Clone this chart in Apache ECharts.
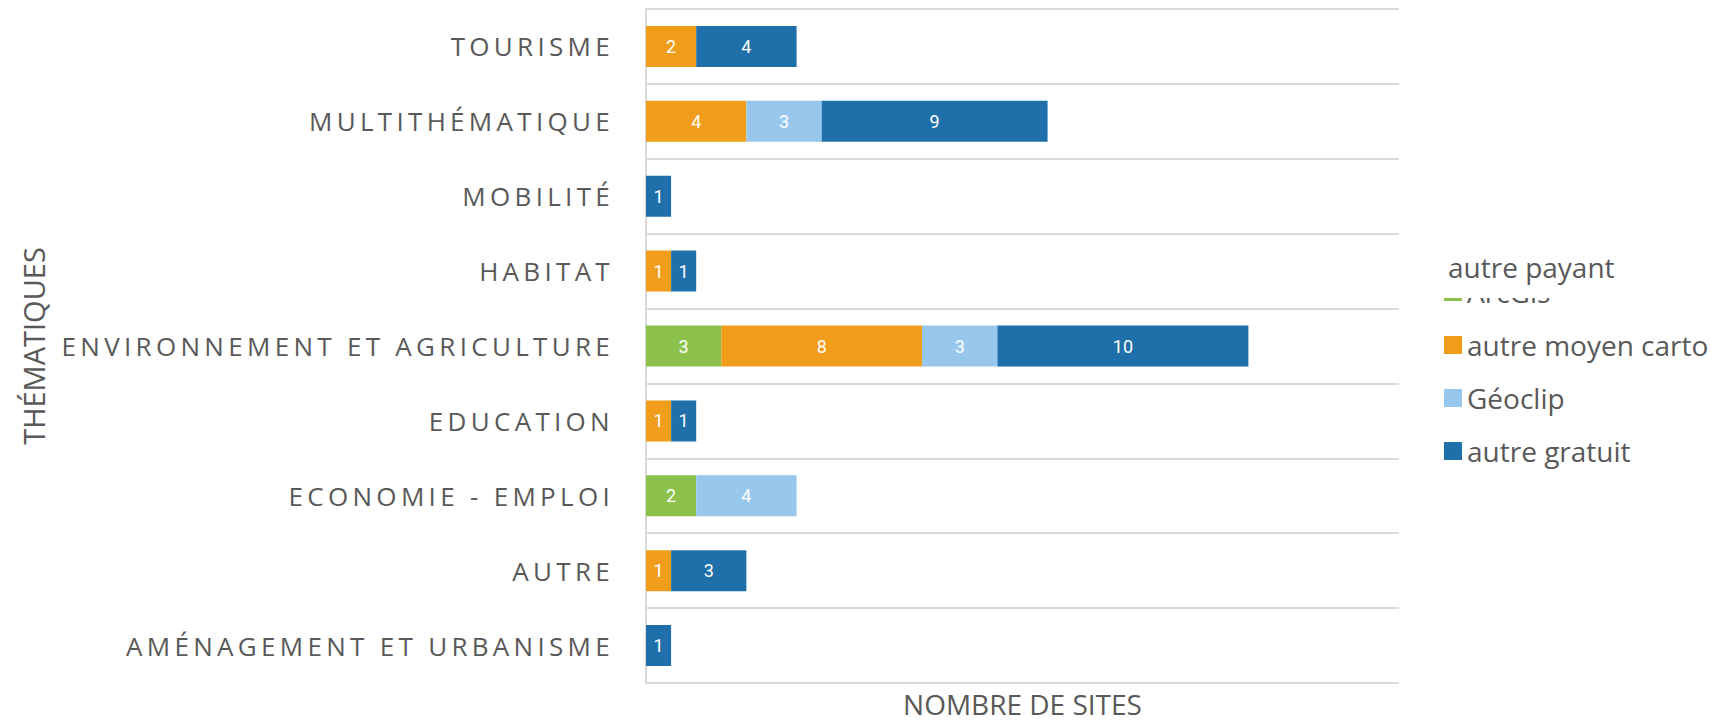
<!DOCTYPE html>
<html>
<head>
<meta charset="utf-8">
<script src="https://cdn.jsdelivr.net/npm/echarts@6/dist/echarts.min.js"></script>
<style>
  html, body { margin: 0; padding: 0; background: #fff; }
  #chart { width: 1716px; height: 724px; }
</style>
</head>
<body>
<div id="chart"></div>
<script>
// categories, bottom to top
var categories = ['AMÉNAGEMENT ET URBANISME', 'AUTRE', 'ECONOMIE - EMPLOI', 'EDUCATION',
  'ENVIRONNEMENT ET AGRICULTURE', 'HABITAT', 'MOBILITÉ', 'MULTITHÉMATIQUE', 'TOURISME'];

var autrePayant = [null, null, null, null, null, null, null, null, null];
var arcGis = [null, null, 2, null, 3, null, null, null, null];
var autreMoyenCarto = [null, 1, null, 1, 8, 1, null, 4, 2];
var geoclip = [null, null, 4, null, 3, null, null, 3, null];
var autreGratuit = [1, 3, null, 1, 10, 1, 1, 9, 4];

var textColor = '#595959';
var gridColor = '#d9d9d9';

function stackSeries(name, data, color) {
  return {
    name: name,
    type: 'bar',
    stack: 'total',
    data: data,
    barWidth: 41,
    itemStyle: { color: color },
    label: {
      show: true,
      color: '#fff',
      fontFamily: 'Roboto',
      fontSize: 18,
      formatter: function (p) { return p.value ? p.value : ''; }
    }
  };
}

var chart = echarts.init(document.getElementById('chart'), null, { renderer: 'svg' });
chart.setOption({
  animation: false,
  grid: { left: 646, right: 317, top: 9, bottom: 41, containLabel: false, outerBoundsMode: 'none' },
  legend: [{
    data: ['ArcGis', 'autre moyen carto', 'Géoclip', 'autre gratuit'],
    orient: 'vertical',
    left: 1439,
    top: 272,
    itemWidth: 18,
    itemHeight: 18,
    itemGap: 23,
    icon: 'rect',
    textStyle: { color: textColor, fontFamily: 'Open Sans', fontSize: 28, lineHeight: 30 }
  }, {
    // the "autre payant" entry sits on top of the ArcGis one, as in the original
    data: ['autre payant'],
    orient: 'vertical',
    left: 1440,
    top: 252,
    z: 10,
    icon: 'none',
    itemWidth: 3,
    itemHeight: 3,
    padding: [0, 30, 16, 0],
    backgroundColor: '#fff',
    textStyle: { color: textColor, fontFamily: 'Open Sans', fontSize: 28, lineHeight: 30 }
  }],
  xAxis: {
    type: 'value',
    min: 0,
    max: 30,
    axisLabel: { show: false },
    axisLine: { show: false },
    axisTick: { show: false },
    splitLine: { show: false },
    name: 'NOMBRE DE SITES',
    nameLocation: 'middle',
    nameGap: 7,
    nameTextStyle: { color: textColor, fontFamily: 'Open Sans', fontSize: 28, lineHeight: 28 }
  },
  yAxis: {
    type: 'category',
    data: categories,
    axisLine: { show: true, lineStyle: { color: gridColor, width: 2 } },
    axisTick: { show: false },
    splitLine: { show: true, lineStyle: { color: gridColor, width: 2 } },
    axisLabel: { color: textColor, fontFamily: 'Open Sans', fontSize: 26, margin: 32 },
    name: 'THÉMATIQUES',
    nameLocation: 'middle',
    nameGap: 598,
    nameRotate: 90,
    nameTextStyle: { color: textColor, fontFamily: 'Open Sans', fontSize: 29 }
  },
  series: [
    stackSeries('autre payant', autrePayant, '#a5a5a5'),
    stackSeries('ArcGis', arcGis, '#8cc14b'),
    stackSeries('autre moyen carto', autreMoyenCarto, '#f19d1c'),
    stackSeries('Géoclip', geoclip, '#97c7ec'),
    stackSeries('autre gratuit', autreGratuit, '#1f70aa')
  ]
});

// the category labels are letter-spaced in the original
function spaceLabels() {
  var texts = document.querySelectorAll('#chart text');
  for (var i = 0; i < texts.length; i++) {
    if (categories.indexOf(texts[i].textContent) >= 0) {
      texts[i].style.letterSpacing = '4.3px';
    }
  }
}
chart.on('finished', spaceLabels);
spaceLabels();
</script>
</body>
</html>
